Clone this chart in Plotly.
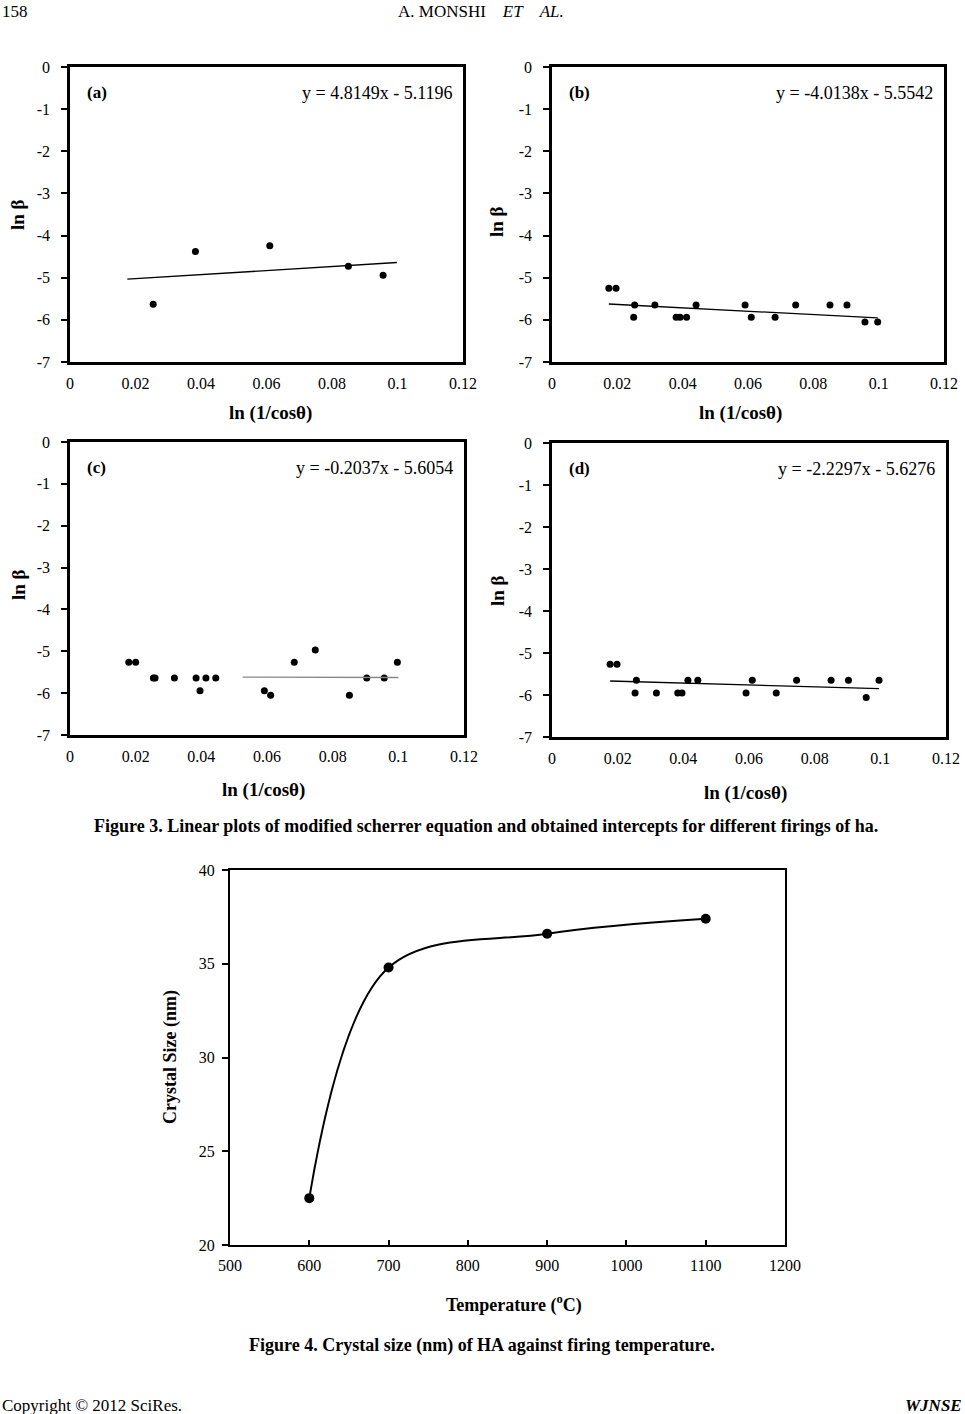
import plotly.graph_objects as go

# ---------------- data ----------------
a_x = [0.0254, 0.0383, 0.0610, 0.0850, 0.0956]
a_y = [-5.63, -4.38, -4.24, -4.73, -4.94]

b_x = [0.0174, 0.0196, 0.0253, 0.0250, 0.0315, 0.0380, 0.0392, 0.0412, 0.0441,
       0.0591, 0.0610, 0.0683, 0.0746, 0.0851, 0.0903, 0.0958, 0.0997]
b_y = [-5.25, -5.25, -5.65, -5.94, -5.65, -5.94, -5.94, -5.94, -5.65,
       -5.65, -5.94, -5.94, -5.65, -5.65, -5.65, -6.05, -6.05]

c_x = [0.0179, 0.0200, 0.0254, 0.0259, 0.0318, 0.0384, 0.0396, 0.0414, 0.0444,
       0.0592, 0.0611, 0.0683, 0.0747, 0.0851, 0.0904, 0.0957, 0.0997]
c_y = [-5.26, -5.26, -5.64, -5.64, -5.64, -5.64, -5.94, -5.64, -5.64,
       -5.94, -6.05, -5.26, -4.97, -6.05, -5.64, -5.64, -5.26]

d_x = [0.0177, 0.0198, 0.0257, 0.0253, 0.0318, 0.0383, 0.0396, 0.0414, 0.0444,
       0.0591, 0.0610, 0.0683, 0.0745, 0.0850, 0.0903, 0.0957, 0.0996]
d_y = [-5.27, -5.27, -5.65, -5.95, -5.95, -5.95, -5.95, -5.65, -5.65,
       -5.95, -5.65, -5.95, -5.65, -5.65, -5.65, -6.06, -5.65]

panel_labels = ["(a)", "(b)", "(c)", "(d)"]
slopes = [4.8149, -4.0138, -0.2037, -2.2297]
intercepts = [-5.1196, -5.5542, -5.6054, -5.6276]
trend_x_ranges = [[0.0175, 0.0998], [0.0174, 0.0997], [0.0526, 0.1000], [0.0177, 0.0996]]
trend_colors = ["black", "black", "#888888", "black"]

x_ticks3 = [0, 0.02, 0.04, 0.06, 0.08, 0.1, 0.12]
x_ticktext3 = ["0", "0.02", "0.04", "0.06", "0.08", "0.1", "0.12"]
y_ticks3 = [0, -1, -2, -3, -4, -5, -6, -7]
y_ticktext3 = ["0", "-1", "-2", "-3", "-4", "-5", "-6", "-7"]

temps = [600, 700, 900, 1100]
sizes = [22.5, 34.8, 36.6, 37.4]
temp_ticks = [500, 600, 700, 800, 900, 1000, 1100, 1200]
size_ticks = [20, 25, 30, 35, 40]

# ---------------- layout geometry (pixels) ----------------
W, H = 965, 1414
FONT = "Liberation Serif, Times New Roman, serif"

def px(x):
    return x / W

def py(y):
    return 1 - y / H

# boxes: (left, right, top, bottom) in pixels
boxes = [(70, 463, 67, 362), (552, 944, 67, 362), (70, 464, 442, 735), (552, 946, 443, 737)]
box4 = (230, 785, 870, 1245)
ytitle_pos = [(18, 215), (497, 222), (18, 585), (497, 591)]
x_title_pos = [(270, 413), (740, 413), (263, 790), (745, 793)]

fig = go.Figure()

xs = [a_x, b_x, c_x, d_x]
ys = [a_y, b_y, c_y, d_y]

layout_axes = {}
annotations = []

for i in range(4):
    n = i + 1
    xa = "x" if n == 1 else f"x{n}"
    ya = "y" if n == 1 else f"y{n}"
    fig.add_trace(go.Scatter(x=xs[i], y=ys[i], mode="markers", xaxis=xa, yaxis=ya,
                             marker=dict(color="black", size=7), showlegend=False))
    tx = trend_x_ranges[i]
    ty = [slopes[i] * v + intercepts[i] for v in tx]
    fig.add_trace(go.Scatter(x=tx, y=ty, mode="lines", xaxis=xa, yaxis=ya,
                             line=dict(color=trend_colors[i], width=1.3), showlegend=False))
    l, r, t, b = boxes[i]
    xkey = "xaxis" if n == 1 else f"xaxis{n}"
    ykey = "yaxis" if n == 1 else f"yaxis{n}"
    layout_axes[xkey] = dict(domain=[px(l), px(r)], anchor=ya, range=[0, 0.12],
                             tickvals=x_ticks3, ticktext=x_ticktext3, ticks="",
                             showline=True, mirror=True, linecolor="black", linewidth=2.5,
                             showgrid=False, zeroline=False, ticklabelstandoff=5,
                             automargin=False,
                             tickfont=dict(family=FONT, size=16, color="black"))
    layout_axes[ykey] = dict(domain=[py(b), py(t)], anchor=xa, range=[-7, 0],
                             tickvals=y_ticks3, ticktext=y_ticktext3,
                             ticks="outside", ticklen=6, tickwidth=2,
                             tickcolor="black",
                             showline=True, mirror=True, linecolor="black", linewidth=2.5,
                             showgrid=False, zeroline=False, ticklabelstandoff=8,
                             automargin=False,
                             tickfont=dict(family=FONT, size=16, color="black"))
    # panel label
    annotations.append(dict(text=f"<b>{panel_labels[i]}</b>", x=px(l + 15), y=py(t + 25),
                            xref="paper", yref="paper", xanchor="left", yanchor="middle",
                            showarrow=False, font=dict(family=FONT, size=17, color="black")))
    sign = "-" if intercepts[i] < 0 else "+"
    eq = f"y = {slopes[i]:.4f}x {sign} {abs(intercepts[i]):.4f}"
    annotations.append(dict(text=eq, x=px(r - 9), y=py(t + 26),
                            xref="paper", yref="paper", xanchor="right", yanchor="middle",
                            showarrow=False, font=dict(family=FONT, size=18, color="black")))
    # y title
    yx, yy = ytitle_pos[i]
    annotations.append(dict(text="<b>ln β</b>", x=px(yx), y=py(yy),
                            xref="paper", yref="paper", xanchor="center", yanchor="middle",
                            textangle=-90, showarrow=False,
                            font=dict(family=FONT, size=19, color="black")))

# x titles
for (cx, cy) in x_title_pos:
    annotations.append(dict(text="<b>ln (1/cosθ)</b>", x=px(cx), y=py(cy),
                            xref="paper", yref="paper", xanchor="center", yanchor="middle",
                            showarrow=False, font=dict(family=FONT, size=19, color="black")))

# Figure 4
fig.add_trace(go.Scatter(x=temps, y=sizes, mode="lines+markers", xaxis="x5", yaxis="y5",
                         line=dict(color="black", width=2, shape="spline", smoothing=1.0),
                         marker=dict(color="black", size=10), showlegend=False))
l, r, t, b = box4
layout_axes["xaxis5"] = dict(domain=[px(l), px(r)], anchor="y5", range=[500, 1200],
                             tickvals=temp_ticks, ticks="inside", ticklen=5, tickwidth=2,
                             tickcolor="black",
                             showline=True, mirror=True, linecolor="black", linewidth=2,
                             showgrid=False, zeroline=False, ticklabelstandoff=5,
                             automargin=False,
                             tickfont=dict(family=FONT, size=16, color="black"))
layout_axes["yaxis5"] = dict(domain=[py(b), py(t)], anchor="x5", range=[20, 40],
                             tickvals=size_ticks, ticks="outside", ticklen=6, tickwidth=2,
                             tickcolor="black",
                             showline=True, mirror=True, linecolor="black", linewidth=2,
                             showgrid=False, zeroline=False, ticklabelstandoff=4,
                             automargin=False,
                             tickfont=dict(family=FONT, size=16, color="black"))
annotations.append(dict(text="<b>Crystal Size (nm)</b>", x=px(170), y=py(1057),
                        xref="paper", yref="paper", xanchor="center", yanchor="middle",
                        textangle=-90, showarrow=False,
                        font=dict(family=FONT, size=18, color="black")))
annotations.append(dict(text="<b>Temperature (<sup>o</sup>C)</b>", x=px(514), y=py(1304),
                        xref="paper", yref="paper", xanchor="center", yanchor="middle",
                        showarrow=False, font=dict(family=FONT, size=18, color="black")))

# captions, header, footer
annotations.append(dict(text="<b>Figure 3. Linear plots of modified scherrer equation and obtained intercepts for different firings of ha.</b>",
                        x=px(486), y=py(826), xref="paper", yref="paper", xanchor="center",
                        yanchor="middle", showarrow=False,
                        font=dict(family=FONT, size=18, color="black")))
annotations.append(dict(text="<b>Figure 4. Crystal size (nm) of HA against firing temperature.</b>",
                        x=px(482), y=py(1345), xref="paper", yref="paper", xanchor="center",
                        yanchor="middle", showarrow=False,
                        font=dict(family=FONT, size=18, color="black")))
annotations.append(dict(text="158", x=px(0), y=py(12), xref="paper", yref="paper",
                        xanchor="left", yanchor="middle", showarrow=False,
                        font=dict(family=FONT, size=17, color="black")))
annotations.append(dict(text="A. MONSHI&nbsp;&nbsp;&nbsp;&nbsp;<i>ET</i>&nbsp;&nbsp;&nbsp;&nbsp;<i>AL.</i>",
                        x=px(481), y=py(12), xref="paper",
                        yref="paper", xanchor="center", yanchor="middle", showarrow=False,
                        font=dict(family=FONT, size=17, color="black")))
annotations.append(dict(text="Copyright © 2012 SciRes.", x=px(0), y=py(1405), xref="paper",
                        yref="paper", xanchor="left", yanchor="middle", showarrow=False,
                        font=dict(family=FONT, size=17, color="black")))
annotations.append(dict(text="<b><i>WJNSE</i></b>", x=px(964), y=py(1405), xref="paper",
                        yref="paper", xanchor="right", yanchor="middle", showarrow=False,
                        font=dict(family=FONT, size=17, color="black")))

fig.update_layout(width=W, height=H, margin=dict(l=0, r=0, t=0, b=0, pad=0, autoexpand=False),
                  template="none",
                  paper_bgcolor="white", plot_bgcolor="white",
                  font=dict(family=FONT, color="black"),
                  annotations=annotations, **layout_axes)

fig.write_html("out.html",
               config={"displayModeBar": False},
               post_script="document.body.style.margin='0px';document.body.style.overflow='hidden';")
